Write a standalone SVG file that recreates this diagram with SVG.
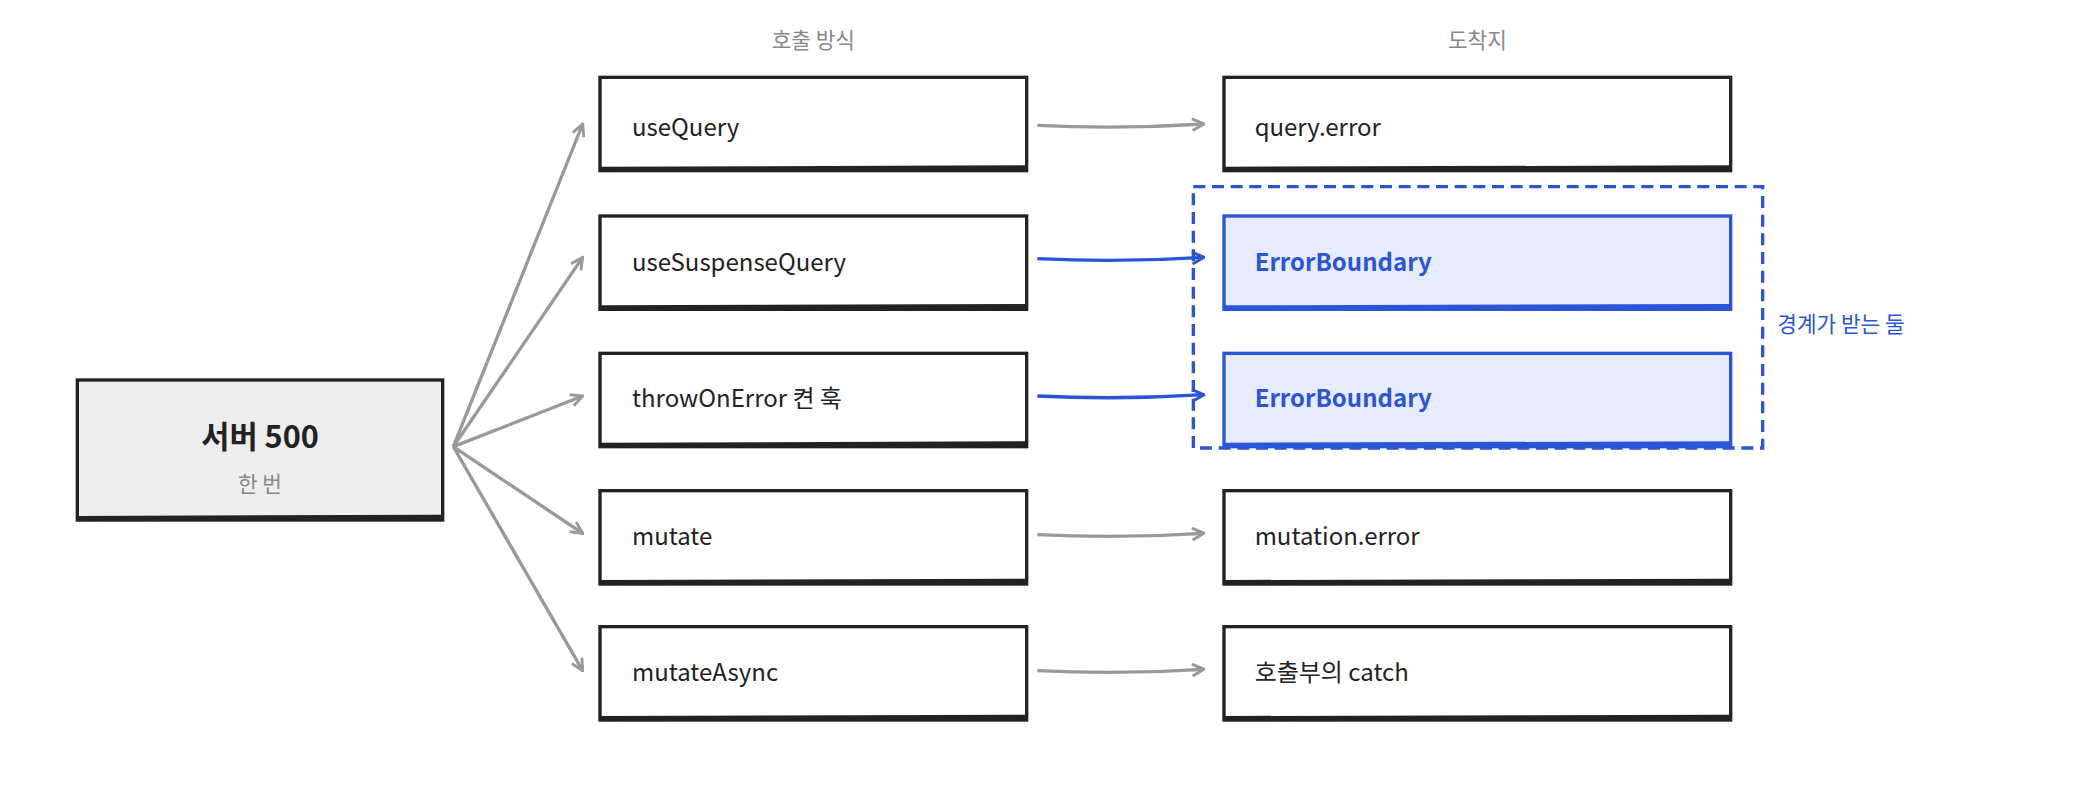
<svg xmlns="http://www.w3.org/2000/svg" width="2080" height="800" viewBox="0 0 2080 800">
<defs>
<marker id="ag" viewBox="0 0 10 10" refX="9" refY="5" markerWidth="11" markerHeight="11" orient="auto" markerUnits="userSpaceOnUse"><path d="M1,1 L9,5 L1,9" fill="none" stroke="#999" stroke-width="2"/></marker>
<marker id="ab" viewBox="0 0 10 10" refX="9" refY="5" markerWidth="11" markerHeight="11" orient="auto" markerUnits="userSpaceOnUse"><path d="M1,1 L9,5 L1,9" fill="none" stroke="#2a55d6" stroke-width="2"/></marker>
</defs>
<style>
text{font-family:"Noto Sans CJK KR","Liberation Sans",sans-serif;}
.box{fill:#fff;stroke:#222;stroke-width:2.5;}
.bot{stroke:#222;stroke-width:4;}
.t{font-size:18px;fill:#222;}
.h{font-size:16px;fill:#888;text-anchor:middle;}
.eb{fill:#e6ecfc;stroke:#2a55d6;stroke-width:2.5;}
.ebt{font-size:18px;font-weight:bold;fill:#2a55d6;}
.g{stroke:#999;stroke-width:2.5;fill:none;marker-end:url(#ag);}
.b{stroke:#2a55d6;stroke-width:2.5;fill:none;marker-end:url(#ab);}
</style>
<g transform="scale(1.33333)">
<text class="h" x="610" y="36">호출 방식</text>
<text class="h" x="1108" y="36">도착지</text>
<g id="server"><rect x="58" y="285" width="274" height="105" fill="#eeeeee" stroke="#222" stroke-width="2.5"/><line class="bot" x1="58" y1="389" x2="332" y2="388"/><text x="195" y="336" font-size="23" font-weight="bold" fill="#222" text-anchor="middle">서버 500</text><text x="195" y="369" font-size="16" fill="#888" text-anchor="middle">한 번</text></g>
<g id="useQuery"><rect class="box" x="450" y="58" width="320" height="70"/><line class="bot" x1="450" y1="127" x2="770" y2="126"/><text class="t" x="474" y="102">useQuery</text></g>
<g id="useSuspenseQuery"><rect class="box" x="450" y="162" width="320" height="70"/><line class="bot" x1="450" y1="231" x2="770" y2="230"/><text class="t" x="474" y="203">useSuspenseQuery</text></g>
<g id="throwOnError"><rect class="box" x="450" y="265" width="320" height="70"/><line class="bot" x1="450" y1="334" x2="770" y2="333"/><text class="t" x="474" y="305">throwOnError 켠 훅</text></g>
<g id="mutate"><rect class="box" x="450" y="368" width="320" height="70"/><line class="bot" x1="450" y1="437" x2="770" y2="436"/><text class="t" x="474" y="409">mutate</text></g>
<g id="mutateAsync"><rect class="box" x="450" y="470" width="320" height="70"/><line class="bot" x1="450" y1="539" x2="770" y2="538"/><text class="t" x="474" y="511">mutateAsync</text></g>
<g id="queryError"><rect class="box" x="918" y="58" width="380" height="70"/><line class="bot" x1="918" y1="127" x2="1298" y2="126"/><text class="t" x="941" y="102">query.error</text></g>
<g id="eb1"><rect class="eb" x="918" y="162" width="380" height="70"/><line x1="918" y1="231" x2="1298" y2="230" stroke="#2a55d6" stroke-width="4"/><text class="ebt" x="941" y="203">ErrorBoundary</text></g>
<g id="eb2"><rect class="eb" x="918" y="265" width="380" height="70"/><line x1="918" y1="334" x2="1298" y2="333" stroke="#2a55d6" stroke-width="4"/><text class="ebt" x="941" y="305">ErrorBoundary</text></g>
<g id="mutationError"><rect class="box" x="918" y="368" width="380" height="70"/><line class="bot" x1="918" y1="437" x2="1298" y2="436"/><text class="t" x="941" y="409">mutation.error</text></g>
<g id="catch"><rect class="box" x="918" y="470" width="380" height="70"/><line class="bot" x1="918" y1="539" x2="1298" y2="538"/><text class="t" x="941" y="511">호출부의 catch</text></g>
<g id="boundary"><rect x="895" y="140" width="427" height="196" fill="none" stroke="#2a55d6" stroke-width="2.5" stroke-dasharray="9 5"/><text x="1333" y="249" font-size="16" fill="#2a55d6">경계가 받는 둘</text></g>
<g id="connectors">
<path class="g" d="M340,335 L437,93"/>
<path class="g" d="M340,335 L437,193"/>
<path class="g" d="M340,335 L437,297"/>
<path class="g" d="M340,335 L437,400"/>
<path class="g" d="M340,335 L437,503"/>
<path class="g" d="M778,94 Q840,97 903,93"/>
<path class="b" d="M778,194 Q840,197 903,193"/>
<path class="b" d="M778,297 Q840,300 903,296"/>
<path class="g" d="M778,401 Q840,404 903,400"/>
<path class="g" d="M778,503 Q840,506 903,502"/>
</g>
</g>
</svg>
